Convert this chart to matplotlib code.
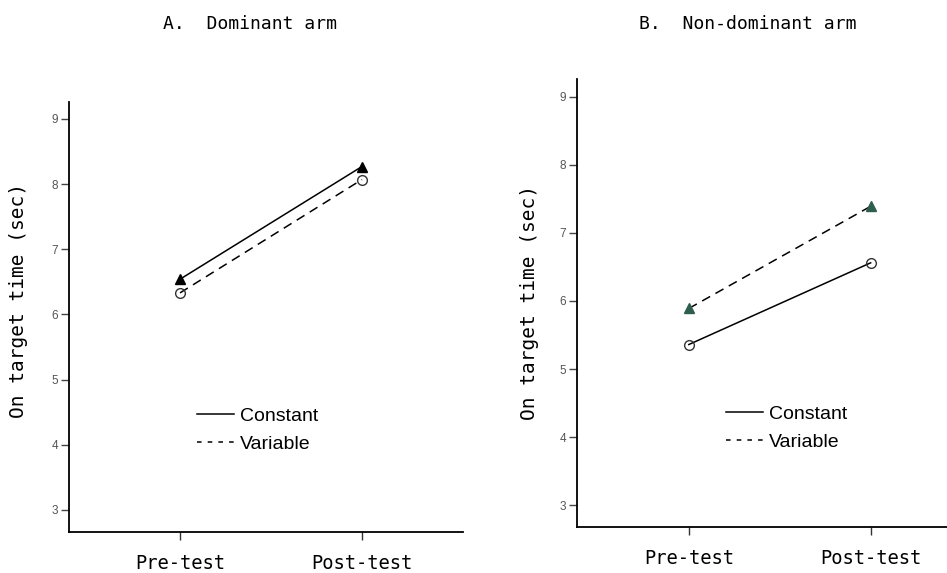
import matplotlib
matplotlib.use("Agg")
import matplotlib.pyplot as plt
from matplotlib.lines import Line2D

# ==========================
# Dados
# ==========================
fases = ["Pre-test", "Post-test"]

dom_constant = [6.54, 8.27]
dom_variable = [6.33, 8.07]

nondom_constant = [5.36, 6.56]
nondom_variable = [5.89, 7.39]

y_ticks = [3, 4, 5, 6, 7, 8, 9]

mono = "DejaVu Sans Mono"
sans = "Liberation Sans"

# ==========================
# Figura
# ==========================
fig = plt.figure(figsize=(9.47, 5.73), dpi=100)

ax_a = fig.add_axes([69/947, 1 - 532/573, (463 - 69)/947, (532 - 102)/573])
ax_b = fig.add_axes([577/947, 1 - 527/573, (947 - 577)/947, (527 - 79)/573])


def estilo(ax, ylim, xlim):
    ax.set_xlim(*xlim)
    ax.set_ylim(*ylim)
    ax.spines["top"].set_visible(False)
    ax.spines["right"].set_visible(False)
    ax.spines["left"].set_linewidth(1.3)
    ax.spines["bottom"].set_linewidth(1.3)
    ax.set_yticks(y_ticks)
    ax.set_yticklabels([str(v) for v in y_ticks], fontsize=8.5, color="#555555",
                       family=sans)
    ax.tick_params(axis="y", length=6, width=1, color="#444444", pad=2)
    ax.set_xticks(range(len(fases)))
    ax.set_xticklabels(fases, fontsize=13.5, family=mono)
    ax.tick_params(axis="x", length=6, width=1, color="#333333", pad=10)


# Painel A
x = range(len(fases))
ax_a.plot(x, dom_constant, color="black", lw=1.1, ls="-",
          marker="^", ms=7, mfc="black", mec="black", label="Constant")
ax_a.plot(x, dom_variable, color="black", lw=1.1, ls=(0, (6, 4)),
          marker="o", ms=7, mfc="none", mec="#333333", label="Variable")
estilo(ax_a, (2.66, 9.26), (-0.61, 1.555))

# Painel B
ax_b.plot(x, nondom_constant, color="black", lw=1.1, ls="-",
          marker="o", ms=7, mfc="none", mec="#333333", label="Constant")
ax_b.plot(x, nondom_variable, color="black", lw=1.1, ls=(0, (6, 4)),
          marker="^", ms=7, mfc="#2e5e4e", mec="#2e5e4e", label="Variable")
estilo(ax_b, (2.68, 9.26), (-0.615, 1.42))

# Legendas (apenas linhas)
handles = [Line2D([], [], color="black", lw=1.1, ls="-"),
           Line2D([], [], color="black", lw=1.1, ls=(0, (3, 4)))]
labels = ["Constant", "Variable"]

for ax, (lx, ly) in [(ax_a, (197, 407)), (ax_b, (726, 405))]:
    ax.legend(handles, labels, loc="upper left",
              bbox_to_anchor=(lx/947, 1 - ly/573),
              bbox_transform=fig.transFigure, frameon=False,
              borderpad=0, borderaxespad=0, handlelength=1.9,
              handletextpad=0.3, labelspacing=0.55,
              prop={"family": sans, "size": 14})

# Títulos e rótulos
fig.text(250/947, 1 - 24/573, "A.  Dominant arm", ha="center", va="center",
         family=mono, fontsize=13)
fig.text(748/947, 1 - 24/573, "B.  Non-dominant arm", ha="center", va="center",
         family=mono, fontsize=13)

fig.text(19/947, 1 - 301/573, "On target time (sec)", rotation=90,
         ha="center", va="center", family=mono, fontsize=14)
fig.text(529/947, 1 - 303/573, "On target time (sec)", rotation=90,
         ha="center", va="center", family=mono, fontsize=14)

plt.savefig("out.png", dpi=100)
plt.close()
